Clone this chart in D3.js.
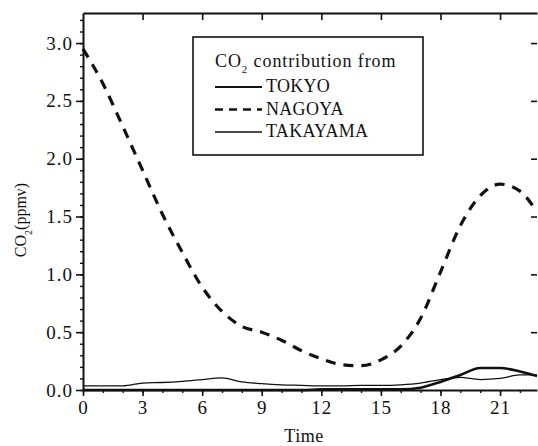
<!DOCTYPE html>
<html>
<head>
<meta charset="utf-8">
<script src="https://cdn.jsdelivr.net/npm/d3@7"></script>
<style>
  html, body { margin: 0; padding: 0; background: #fff; }
  svg { display: block; }
  text { font-family: "Liberation Serif", "DejaVu Serif", serif; fill: #111; }
</style>
</head>
<body>
<div id="chart"></div>
<script>
// Hours of the day (last point is the right edge of the frame)
const hours = [0, 1, 2, 3, 4, 5, 6, 7, 8, 9, 10, 11, 12, 13, 14, 15, 16, 17, 18, 19, 20, 21, 22, 22.86];

// CO2 contribution (ppmv)
const tokyo    = [0.0, 0.0, 0.0, 0.0, 0.0, 0.0, 0.0, 0.0, 0.0, 0.0, 0.0, 0.0, 0.005, 0.005, 0.005, 0.005, 0.005, 0.02, 0.07, 0.13, 0.19, 0.19, 0.16, 0.12];
const nagoya   = [2.95, 2.65, 2.28, 1.90, 1.52, 1.19, 0.89, 0.68, 0.55, 0.50, 0.43, 0.34, 0.27, 0.22, 0.21, 0.26, 0.38, 0.62, 1.02, 1.42, 1.68, 1.78, 1.72, 1.54];
const takayama = [0.035, 0.035, 0.035, 0.06, 0.065, 0.075, 0.09, 0.105, 0.07, 0.055, 0.045, 0.04, 0.035, 0.035, 0.04, 0.04, 0.045, 0.06, 0.09, 0.11, 0.09, 0.10, 0.13, 0.13];

const xTicks = [0, 3, 6, 9, 12, 15, 18, 21];
const yTicks = [0.0, 0.5, 1.0, 1.5, 2.0, 2.5, 3.0];
const legendNames = ['TOKYO', 'NAGOYA', 'TAKAYAMA'];

const W = 538, H = 446;
const margin = { top: 13, right: 1, bottom: 56, left: 83 };

const x = d3.scaleLinear().domain([0, 22.86]).range([margin.left, W - margin.right]);
const y = d3.scaleLinear().domain([0, 3.26]).range([H - margin.bottom, margin.top]);

const svg = d3.select('#chart').append('svg')
  .attr('width', W).attr('height', H)
  .attr('viewBox', `0 0 ${W} ${H}`);

const series = [
  { name: 'TOKYO', values: tokyo, width: 2.6, dash: null },
  { name: 'NAGOYA', values: nagoya, width: 3.2, dash: '10,8' },
  { name: 'TAKAYAMA', values: takayama, width: 1.3, dash: null }
];

// Lines
const line = d3.line()
  .x((d, i) => x(hours[i]))
  .y(d => y(d))
  .curve(d3.curveMonotoneX);

const plot = svg.append('g');
series.forEach(s => {
  plot.append('path')
    .datum(s.values)
    .attr('d', line)
    .attr('fill', 'none')
    .attr('stroke', '#111')
    .attr('stroke-width', s.width)
    .attr('stroke-dasharray', s.dash);
});

// Axes
function styleAxis(g, fontSize) {
  g.attr('font-family', null).attr('font-size', null);
  g.select('.domain').attr('stroke', '#111').attr('stroke-width', 2);
  g.selectAll('.tick line').attr('stroke', '#111').attr('stroke-width', 1.6);
  g.selectAll('.tick text')
    .style('font-size', fontSize + 'px')
    .style('letter-spacing', '1px')
    .attr('fill', '#111');
}

const yMinor = d3.range(0, 3.26, 0.1).map(v => +v.toFixed(1));
const xMinor = d3.range(0, 23, 1);

// minor ticks
svg.append('g')
  .attr('transform', `translate(${margin.left},0)`)
  .call(d3.axisLeft(y).tickValues(yMinor).tickSize(3).tickFormat(''))
  .call(g => { g.select('.domain').remove(); g.selectAll('.tick line').attr('stroke', '#111').attr('stroke-width', 1.4); });

svg.append('g')
  .attr('transform', `translate(0,${H - margin.bottom})`)
  .call(d3.axisBottom(x).tickValues(xMinor).tickSize(3).tickFormat(''))
  .call(g => { g.select('.domain').remove(); g.selectAll('.tick line').attr('stroke', '#111').attr('stroke-width', 1.4); });

// major axes
svg.append('g')
  .attr('transform', `translate(${margin.left},0)`)
  .call(d3.axisLeft(y).tickValues(yTicks).tickSize(7).tickSizeOuter(0).tickPadding(3).tickFormat(d3.format('.1f')))
  .call(g => styleAxis(g, 19));

svg.append('g')
  .attr('transform', `translate(0,${H - margin.bottom})`)
  .call(d3.axisBottom(x).tickValues(xTicks).tickSize(6).tickSizeOuter(0).tickPadding(5).tickFormat(d3.format('d')))
  .call(g => styleAxis(g, 19));

svg.append('g')
  .attr('transform', `translate(0,${margin.top})`)
  .call(d3.axisTop(x).tickValues(xTicks.slice(1)).tickSize(-7).tickSizeOuter(0).tickFormat(''))
  .call(g => styleAxis(g, 19));

// right side: only inward ticks, no visible frame line
svg.append('g')
  .attr('transform', `translate(${W - margin.right},0)`)
  .call(d3.axisRight(y).tickValues(yTicks.slice(1)).tickSize(-6).tickSizeOuter(0).tickFormat(''))
  .call(g => { styleAxis(g, 19); g.select('.domain').remove(); });

// Axis titles
svg.append('text')
  .attr('x', (x(0) + x(22.86)) / 2 - 6)
  .attr('y', 442)
  .attr('text-anchor', 'middle')
  .style('font-size', '18px')
  .style('letter-spacing', '0.5px')
  .text('Time');

const yLab = svg.append('text')
  .attr('transform', `translate(26,220) rotate(-90)`)
  .attr('text-anchor', 'middle')
  .style('font-size', '16px');
yLab.append('tspan').text('CO');
yLab.append('tspan').attr('baseline-shift', 'sub').style('font-size', '10px').text('2');
yLab.append('tspan').text('(ppmv)');

// Legend
const legend = svg.append('g');
legend.append('rect')
  .attr('x', 193).attr('y', 37)
  .attr('width', 230).attr('height', 118)
  .attr('fill', '#fff')
  .attr('stroke', '#111')
  .attr('stroke-width', 1.6);

const lt = legend.append('text')
  .attr('x', 215).attr('y', 67)
  .style('font-size', '18px')
  .style('letter-spacing', '0.9px');
lt.append('tspan').text('CO');
lt.append('tspan').attr('baseline-shift', 'sub').style('font-size', '11px').text('2');
lt.append('tspan').text(' contribution from');

legendNames.forEach((name, i) => {
  const s = series.find(d => d.name === name);
  const yy = 87 + i * 22.5;
  legend.append('line')
    .attr('x1', 215).attr('x2', 262)
    .attr('y1', yy).attr('y2', yy)
    .attr('stroke', '#111')
    .attr('stroke-width', s.dash ? 2.6 : (s.width > 2 ? 2.2 : 1.3))
    .attr('stroke-dasharray', s.dash ? '8,6' : null);
  legend.append('text')
    .attr('x', 266).attr('y', yy + 5)
    .style('font-size', '18px')
    .style('letter-spacing', '0.3px')
    .text(name);
});
</script>
</body>
</html>
